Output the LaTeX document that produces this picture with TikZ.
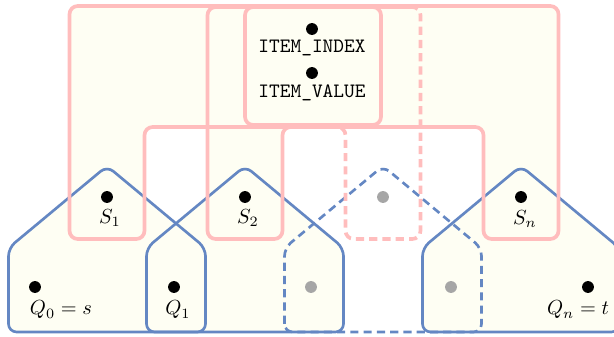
\documentclass[tikz,border=0pt]{standalone}
\definecolor{bluec}{RGB}{100,135,195}
\definecolor{pinkc}{RGB}{255,189,189}
\definecolor{fillc}{RGB}{254,254,243}
\definecolor{grayc}{RGB}{166,166,166}
\tikzset{
  pinkline/.style={draw=pinkc, line width=1.8pt, rounded corners=4pt},
  pinkfill/.style={fill=fillc, rounded corners=4pt},
  blueline/.style={draw=bluec, line width=1.3pt, rounded corners=4pt},
  dashpat/.style={dash pattern=on 4pt off 2.5pt},
  dotb/.style={circle, fill=black, inner sep=0pt, minimum size=5.8pt},
  dotg/.style={circle, fill=grayc, inner sep=0pt, minimum size=5.8pt},
  lab/.style={inner sep=0pt, font=\normalsize}
}
\begin{document}
\begin{tikzpicture}[x=0.4902pt, y=-0.4902pt]
\useasboundingbox (0,0) rectangle (614,337);
\clip (0,0) rectangle (614,337);
% ---- fills ----
\path[pinkfill] (69.5,239) -- (69.5,6) -- (558.5,6) -- (558.5,239) -- (483.5,239) -- (483.5,127) -- (144.5,127) -- (144.5,239) -- cycle;
\path[pinkfill] (207.5,239) -- (207.5,100) -- (282.5,100) -- (282.5,239) -- cycle;
\path[pinkfill] (245,7) rectangle (381,125);
\foreach \c in {107,245,521}{
  \path[fill=fillc, rounded corners=4pt] ({\c-98.5},332) -- ({\c-98.5},248) -- (\c,166) -- ({\c+98.5},248) -- ({\c+98.5},332) -- cycle;
}
% ---- blue houses ----
\foreach \c in {107,245,521}{
  \draw[blueline] ({\c-98.5},332) -- ({\c-98.5},248) -- (\c,166) -- ({\c+98.5},248) -- ({\c+98.5},332) -- cycle;
}
\draw[blueline, dashpat] (284.5,332) -- (284.5,248) -- (383,166) -- (481.5,248) -- (481.5,332) -- cycle;
% ---- pink shapes ----
\draw[pinkline] (69.5,239) -- (69.5,6) -- (558.5,6) -- (558.5,239) -- (483.5,239) -- (483.5,127) -- (144.5,127) -- (144.5,239) -- cycle;
\draw[pinkline] (352,127) -- (282.5,127) -- (282.5,239) -- (207.5,239) -- (207.5,7) -- (414,7);
\draw[pinkline, dashpat] (410,7) -- (420.5,7) -- (420.5,239) -- (345.5,239) -- (345.5,127) -- (336,127);
\draw[pinkline] (245,7) rectangle (381,125);
% ---- item box ----
\node[dotb] (i1) at (312,29) {};
\node[lab] (ti1) at (312,48) {\texttt{ITEM\_INDEX}};
\node[dotb] (i2) at (312,73) {};
\node[lab] (ti2) at (312,93) {\texttt{ITEM\_VALUE}};
% ---- S dots ----
\node[dotb] (s1) at (107,197) {};
\node[lab] (ls1) at (110,218) {$S_1$};
\node[dotb] (s2) at (245,197) {};
\node[lab] (ls2) at (248,218) {$S_2$};
\node[dotg] (s3) at (383,197) {};
\node[dotb] (sn) at (521,197) {};
\node[lab] (lsn) at (525,219) {$S_n$};
% ---- Q dots ----
\node[dotb] (q0) at (35,287) {};
\node[lab] (lq0) at (61,310) {$Q_0 = s$};
\node[dotb] (q1) at (174,287) {};
\node[lab] (lq1) at (178,310) {$Q_1$};
\node[dotg] (q2) at (311,287) {};
\node[dotg] (q3) at (451,287) {};
\node[dotb] (qn) at (588,287) {};
\node[lab] (lqn) at (578,310) {$Q_n = t$};
\end{tikzpicture}
\end{document}
